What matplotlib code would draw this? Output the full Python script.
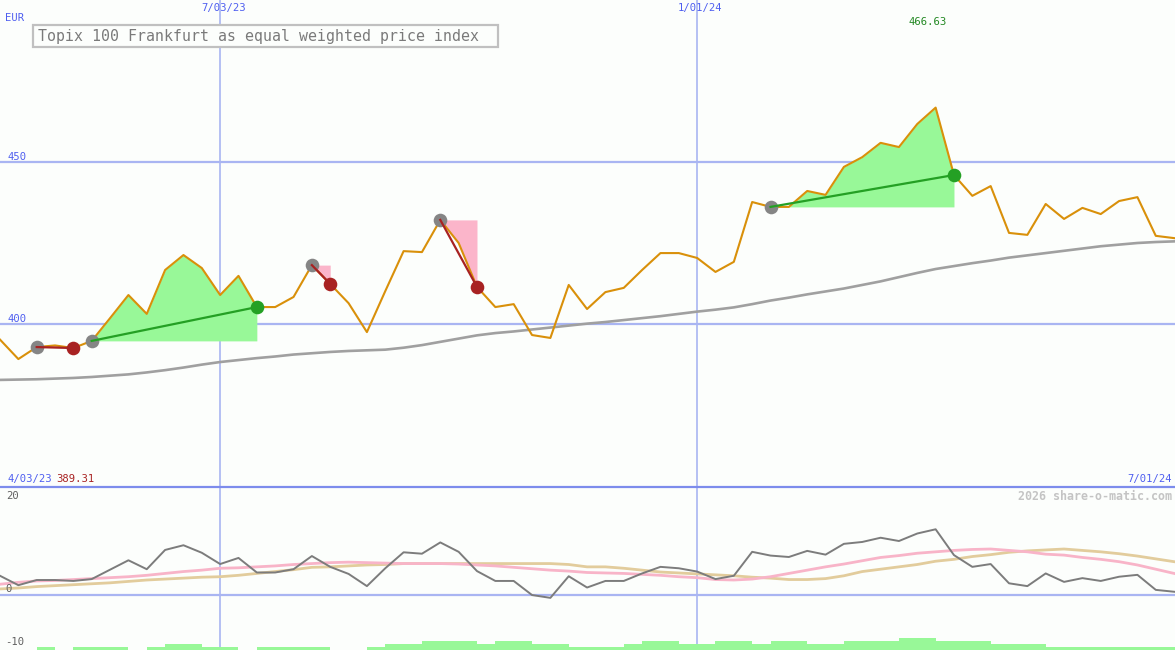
import numpy as np
import pandas as pd
import matplotlib
matplotlib.use("Agg")
import matplotlib.pyplot as plt
from matplotlib.patches import Rectangle

# ---------------- data ----------------
title = "Topix 100 Frankfurt as equal weighted price index"
currency = "EUR"
start_label = "4/03/23"
end_label = "7/01/24"
watermark = "2026 share-o-matic.com"
first_week = "2023-04-10"
marker_dates = ["2023-07-03", "2024-01-01"]
marker_labels = ["7/03/23", "1/01/24"]
price_ticks = [450, 400]
osc_ticks = [20, 0, -10]

price = [395.3, 389.31, 393.0, 393.5, 392.7, 394.9, 401.9, 409.0, 403.2, 416.7,
         421.3, 417.3, 409.0, 414.9, 405.3, 405.3, 408.4, 418.2, 412.4, 406.5,
         397.6, 410.2, 422.5, 422.2, 432.1, 425.0, 411.5, 405.3, 406.2, 396.7,
         395.8, 412.1, 404.7, 409.9, 411.2, 416.7, 421.9, 421.9, 420.4, 416.1,
         419.2, 437.6, 436.1, 436.1, 441.0, 439.8, 448.4, 451.4, 455.8, 454.5,
         461.6, 466.63, 445.9, 439.5, 442.5, 428.1, 427.5, 437.0, 432.4, 435.8,
         433.9, 437.9, 439.1, 427.2, 426.5]

ma_long = [382.9, 383.0, 383.1, 383.3, 383.5, 383.8, 384.2, 384.6, 385.2, 385.9,
           386.7, 387.6, 388.4, 389.0, 389.6, 390.1, 390.7, 391.1, 391.5, 391.8,
           392.0, 392.2, 392.8, 393.6, 394.6, 395.6, 396.6, 397.3, 397.8, 398.4,
           399.0, 399.6, 400.2, 400.7, 401.3, 401.9, 402.5, 403.2, 403.9, 404.5,
           405.2, 406.2, 407.3, 408.2, 409.2, 410.1, 411.0, 412.1, 413.2, 414.5,
           415.8, 417.0, 417.9, 418.8, 419.6, 420.5, 421.2, 421.9, 422.6, 423.3,
           424.0, 424.5, 425.0, 425.3, 425.5]

osc = [4.1, 2.1, 3.2, 3.2, 3.0, 3.4, 5.4, 7.4, 5.5, 9.6,
       10.6, 9.0, 6.6, 7.9, 4.8, 4.8, 5.5, 8.3, 6.0, 4.5,
       1.9, 5.7, 9.1, 8.8, 11.2, 9.2, 5.1, 3.0, 3.0, 0.0,
       -0.6, 4.0, 1.6, 3.0, 3.0, 4.6, 6.0, 5.7, 5.0, 3.4,
       4.1, 9.2, 8.4, 8.1, 9.4, 8.6, 10.9, 11.3, 12.2, 11.5,
       13.1, 14.0, 8.5, 6.0, 6.6, 2.5, 1.9, 4.6, 2.8, 3.6,
       3.0, 3.9, 4.3, 1.1, 0.7]

osc_fast = [2.3, 2.7, 3.0, 3.1, 3.3, 3.5, 3.7, 3.9, 4.2, 4.6,
            5.0, 5.3, 5.7, 5.8, 6.0, 6.2, 6.5, 6.7, 6.9, 7.0,
            6.9, 6.8, 6.7, 6.7, 6.7, 6.6, 6.4, 6.2, 5.9, 5.6,
            5.3, 5.1, 4.8, 4.7, 4.6, 4.4, 4.2, 3.9, 3.7, 3.3,
            3.2, 3.4, 3.9, 4.6, 5.3, 6.0, 6.6, 7.3, 8.0, 8.4,
            8.9, 9.2, 9.5, 9.7, 9.8, 9.5, 9.2, 8.7, 8.5, 8.0,
            7.6, 7.1, 6.4, 5.5, 4.6]

osc_slow = [1.3, 1.5, 1.8, 2.0, 2.2, 2.4, 2.6, 2.9, 3.2, 3.4,
            3.6, 3.8, 3.9, 4.2, 4.6, 5.0, 5.4, 5.9, 6.0, 6.2,
            6.4, 6.5, 6.7, 6.7, 6.7, 6.7, 6.7, 6.7, 6.7, 6.7,
            6.7, 6.5, 6.0, 6.0, 5.7, 5.3, 4.9, 4.7, 4.5, 4.3,
            4.1, 3.8, 3.6, 3.3, 3.3, 3.5, 4.1, 5.0, 5.5, 6.0,
            6.5, 7.2, 7.6, 8.2, 8.6, 9.1, 9.4, 9.6, 9.8, 9.5,
            9.2, 8.8, 8.3, 7.7, 7.1]

volume_level = [0, 0, 1, 0, 1, 1, 1, 0, 1, 2,
                2, 1, 1, 0, 1, 1, 1, 1, 0, 0,
                1, 2, 2, 3, 3, 3, 2, 3, 3, 2,
                2, 1, 1, 1, 2, 3, 3, 2, 2, 3,
                3, 2, 3, 3, 2, 2, 3, 3, 3, 4,
                4, 3, 3, 3, 2, 2, 2, 1, 1, 1,
                1, 1, 1, 1, 1]

# (entry week index, exit week index)
trades = [(2, 4), (5, 14), (17, 18), (24, 26), (42, 52)]

# ---------------- style ----------------
W, H = 1175, 650
BG = "#fcfefc"
GRID = "#a9b5f2"
SEP = "#7d8cec"
LBL = "#4f5ff0"
MONO = "DejaVu Sans Mono"
ORANGE = "#d9900a"
MA_GRAY = "#a0a0a0"
DOT_GRAY = "#858585"
RED = "#a82222"
GREEN = "#24a024"
FILL_G = "#98f898"
FILL_R = "#fbb5ca"

dates = pd.date_range(first_week, periods=len(price), freq="7D")
price_a = np.array(price)
x0, x1 = dates[0], dates[-1] + pd.Timedelta(hours=8)

fig = plt.figure(figsize=(W / 100, H / 100), dpi=100, facecolor=BG)
split = 487
ax = fig.add_axes([0, 1 - split / H, 1, split / H])
ax2 = fig.add_axes([0, 0, 1, 1 - split / H])
for a in (ax, ax2):
    a.set_facecolor(BG)
    a.set_xlim(x0, x1)
    a.axis("off")

# main panel
ax.set_ylim(349.97, 499.72)
for t in price_ticks:
    ax.axhline(t, color=GRID, lw=1.6, zorder=0)
for d in marker_dates:
    ax.axvline(pd.Timestamp(d), color=GRID, lw=1.2, zorder=0)
    ax2.axvline(pd.Timestamp(d), color=GRID, lw=1.2, zorder=0)

for (i, j) in trades:
    win = price[j] > price[i]
    ax.fill_between(dates[i:j + 1], price[i], price_a[i:j + 1],
                    color=FILL_G if win else FILL_R, lw=0, zorder=1)

ax.plot(dates, ma_long, color=MA_GRAY, lw=1.9, zorder=2)
ax.plot(dates, price, color=ORANGE, lw=1.5, zorder=3)

for (i, j) in trades:
    win = price[j] > price[i]
    ax.plot([dates[i]], [price[i]], "o", ms=9.8, color=DOT_GRAY, mec="none", zorder=4)
    ax.plot([dates[j]], [price[j]], "o", ms=9.8, color=GREEN if win else RED,
            mec="none", zorder=4)
    ax.plot([dates[i], dates[j]], [price[i], price[j]],
            color=GREEN if win else RED, lw=1.6, zorder=5)

for t in price_ticks:
    ax.annotate(str(t), xy=(0, t), xycoords=("axes fraction", "data"),
                xytext=(8, 5), textcoords="offset pixels", ha="left", va="center",
                fontsize=7.6, family=MONO, color=LBL)
for d, lab in zip(marker_dates, marker_labels):
    ax.annotate(lab, xy=(pd.Timestamp(d), 1), xycoords=("data", "axes fraction"),
                xytext=(3, -8), textcoords="offset pixels", ha="center", va="center",
                fontsize=7.6, family=MONO, color=LBL)

imax = int(np.argmax(price_a))
ax.annotate(f"{price[imax]:.2f}", xy=(dates[imax], 1), xycoords=("data", "axes fraction"),
            xytext=(-8, -22), textcoords="offset pixels", ha="center", va="center",
            fontsize=7.6, family=MONO, color="#228822")

def fx(px):
    return px / W

def fy(py):
    return 1 - py / H

fig.text(fx(5), fy(18), currency, fontsize=7.6, family=MONO, color=LBL, va="center")
fig.add_artist(Rectangle((fx(33), fy(47)), fx(465), 22 / H, transform=fig.transFigure,
                         facecolor=BG, edgecolor="#c0c0c0", lw=1.6, zorder=10))
fig.text(fx(38), fy(36), title, fontsize=10.75, family=MONO, color="#7a7a7a",
         va="center", ha="left", zorder=11)

imin = int(np.argmin(price_a))
fig.text(fx(7), fy(479), start_label, fontsize=7.6, family=MONO, color=LBL, va="center")
fig.text(fx(56), fy(479), f"{price[imin]:.2f}", fontsize=7.6, family=MONO, color=RED,
         va="center")
fig.text(fx(1172), fy(479), end_label, fontsize=7.6, family=MONO, color=LBL,
         va="center", ha="right")

# separator
fig.add_artist(plt.Line2D([0, 1], [fy(split), fy(split)], transform=fig.transFigure,
                          color=SEP, lw=1.6, zorder=9))

# lower panel
lo, hi = -11.7, 23.0
ax2.set_ylim(lo, hi)
ax2.axhline(0, color=GRID, lw=1.6, zorder=0)
vol_unit = 0.64
ax2.bar(dates, np.array(volume_level) * vol_unit, width=7, align="edge", bottom=lo,
        color=FILL_G, lw=0, zorder=1)
ax2.plot(dates, osc_slow, color="#e2cc9c", lw=2.0, zorder=2)
ax2.plot(dates, osc_fast, color="#f8b4c8", lw=2.0, zorder=2)
ax2.plot(dates, osc, color="#7c7c7c", lw=1.4, zorder=3)

fig.text(fx(1172), fy(496), watermark, fontsize=8.4, family=MONO, color="#c4c4c4",
         va="center", ha="right", weight="bold")
fig.text(fx(6), fy(496), str(osc_ticks[0]), fontsize=7.6, family=MONO, color="#606060",
         va="center")
fig.text(fx(5), fy(589), str(osc_ticks[1]), fontsize=7.6, family=MONO, color="#606060",
         va="center")
fig.text(fx(5), fy(642), str(osc_ticks[2]), fontsize=7.6, family=MONO, color="#606060",
         va="center")

fig.savefig("out.png", dpi=100, facecolor=BG)
